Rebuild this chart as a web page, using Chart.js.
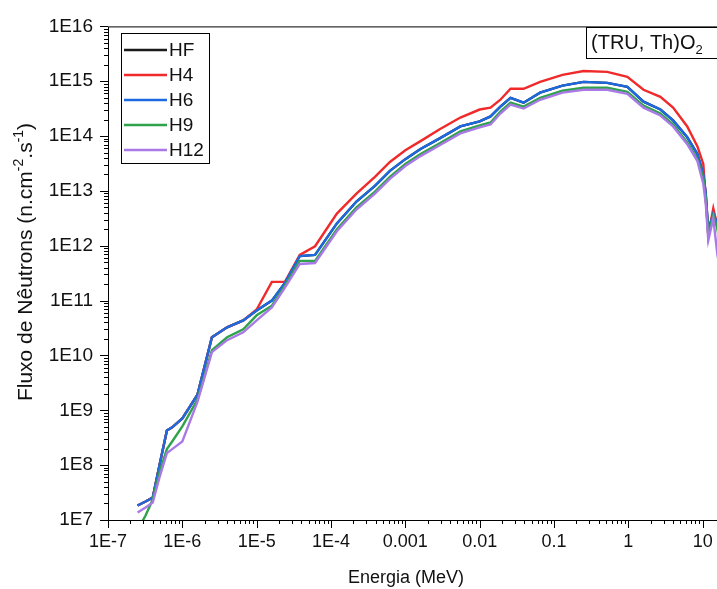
<!DOCTYPE html>
<html>
<head>
<meta charset="utf-8">
<script src="https://cdn.jsdelivr.net/npm/chart.js@4.4.1/dist/chart.umd.min.js"></script>
<style>
  html, body { margin: 0; padding: 0; background: #fff; }
  #wrap { width: 717px; height: 589px; overflow: hidden; position: relative; }
  #chart { display: block; }
</style>
</head>
<body>
<div id="wrap"><canvas id="chart" width="790" height="589"></canvas></div>
<script>
// energia (MeV)
const energy = [2.5e-7, 3.2e-7, 4.0e-7, 5.0e-7, 6.2e-7, 7.3e-7, 1.0e-6, 1.6e-6, 2.5e-6, 4.0e-6,
  6.6e-6, 1.0e-5, 1.6e-5, 2.4e-5, 3.8e-5, 6.1e-5, 1.2e-4, 2.2e-4, 3.9e-4, 6.2e-4,
  1.0e-3, 1.6e-3, 2.9e-3, 5.5e-3, 1.0e-2, 1.4e-2, 1.9e-2, 2.6e-2, 3.9e-2, 6.5e-2,
  0.13, 0.25, 0.52, 0.97, 1.6, 2.7, 4.0, 6.2, 8.5, 10.2, 11.0, 11.9, 13.9, 15.7, 20];

const fluxHF = [1.84e7, 2.17e7, 2.56e7, 1.1e8, 4.3e8, 4.9e8, 7.1e8, 1.93e9, 2.15e10, 3.26e10,
  4.36e10, 6.6e10, 1.0e11, 2.1e11, 6.5e11, 6.8e11, 2.56e12, 6.4e12, 1.24e13, 2.32e13,
  3.8e13, 5.8e13, 9.1e13, 1.5e14, 1.85e14, 2.28e14, 3.45e14, 5.0e14, 4.07e14, 6.2e14,
  8.3e14, 9.75e14, 9.35e14, 7.9e14, 4.25e14, 3.05e14, 1.93e14, 9.5e13, 4.7e13, 2.04e13,
  8.9e12, 1.84e12, 3.87e12, 2.56e12, 3.2e11];
const fluxH4 = [1.84e7, 2.17e7, 2.56e7, 1.1e8, 4.3e8, 4.9e8, 7.1e8, 1.93e9, 2.15e10, 3.26e10,
  4.36e10, 6.9e10, 2.2e11, 2.2e11, 6.8e11, 9.8e11, 3.87e12, 8.9e12, 1.8e13, 3.37e13,
  5.5e13, 8.1e13, 1.33e14, 2.18e14, 3.05e14, 3.3e14, 4.6e14, 7.3e14, 7.3e14, 9.75e14,
  1.31e15, 1.54e15, 1.48e15, 1.2e15, 7.0e14, 5.2e14, 3.3e14, 1.5e14, 6.5e13, 3.1e13,
  7.2e12, 1.55e12, 4.8e12, 2.35e12, 3.2e11];
const fluxH6 = [1.84e7, 2.17e7, 2.56e7, 1.1e8, 4.3e8, 4.9e8, 7.1e8, 1.93e9, 2.15e10, 3.26e10,
  4.36e10, 6.6e10, 1.0e11, 2.1e11, 6.5e11, 6.8e11, 2.56e12, 6.4e12, 1.24e13, 2.32e13,
  3.8e13, 5.8e13, 9.1e13, 1.5e14, 1.85e14, 2.28e14, 3.45e14, 5.0e14, 4.07e14, 6.2e14,
  8.3e14, 9.75e14, 9.35e14, 7.9e14, 4.25e14, 3.05e14, 1.93e14, 9.5e13, 4.7e13, 2.04e13,
  8.9e12, 1.84e12, 3.87e12, 2.56e12, 3.2e11];
const fluxH9 = [6.5e6, 1.21e7, 2.36e7, 7.9e7, 1.96e8, 2.7e8, 5.1e8, 1.57e9, 1.25e10, 2.15e10,
  3.0e10, 5.4e10, 8.1e10, 1.87e11, 5.3e11, 5.3e11, 2.0e12, 5.0e12, 9.7e12, 1.8e13,
  3.1e13, 4.7e13, 7.4e13, 1.22e14, 1.57e14, 1.77e14, 2.8e14, 4.07e14, 3.45e14, 5.0e14,
  6.7e14, 7.6e14, 7.6e14, 6.4e14, 3.6e14, 2.58e14, 1.63e14, 7.7e13, 3.8e13, 1.73e13,
  7.2e12, 1.55e12, 3.6e12, 2.08e12, 2.6e11];
const fluxH12 = [1.37e7, 1.69e7, 2.08e7, 6.4e7, 1.66e8, 1.96e8, 2.7e8, 1.44e9, 1.15e10, 1.9e10,
  2.64e10, 4.36e10, 7.5e10, 1.72e11, 4.66e11, 4.85e11, 1.84e12, 4.58e12, 8.9e12, 1.66e13,
  2.85e13, 4.32e13, 6.8e13, 1.12e14, 1.44e14, 1.63e14, 2.58e14, 3.75e14, 3.18e14, 4.6e14,
  6.2e14, 7.0e14, 7.0e14, 5.9e14, 3.3e14, 2.37e14, 1.5e14, 7.1e13, 3.5e13, 1.35e13,
  5.9e12, 1.26e12, 3.15e12, 7.3e11, 9.2e10];

const seriesNames = ['HF', 'H4', 'H6', 'H9', 'H12'];
const seriesColors = ['#1a1a1a', '#f02a2a', '#1d6ae0', '#2fa24c', '#a97ae6'];
const seriesFlux = [fluxHF, fluxH4, fluxH6, fluxH9, fluxH12];

const FONT = '"Liberation Sans", Arial, sans-serif';
const TXT = '#111';

function pow10Label(v) {
  const e = Math.round(Math.log10(v));
  if (Math.abs(v / Math.pow(10, e) - 1) > 1e-6) return null;
  return e;
}

const datasets = seriesNames.map((name, i) => ({
  label: name,
  data: energy.map((e, j) => ({ x: e, y: seriesFlux[i][j] })),
  borderColor: seriesColors[i],
  borderWidth: 2.4,
  pointRadius: 0,
  tension: 0,
  fill: false,
  order: seriesNames.length - i
}));

const decor = {
  id: 'decor',
  afterDraw(chart) {
    const { ctx, chartArea: a, scales: { x, y } } = chart;
    ctx.save();
    ctx.strokeStyle = '#000';
    ctx.lineWidth = 1;
    ctx.strokeRect(a.left + 0.5, a.top + 0.5, a.right - a.left, a.bottom - a.top);

    // ticks
    ctx.beginPath();
    for (let e = -7; e <= 2; e++) {
      for (let k = 1; k <= 9; k++) {
        const v = k * Math.pow(10, e);
        if (v < x.min * 0.999 || v > x.max * 1.001) continue;
        const px = Math.round(x.getPixelForValue(v)) + 0.5;
        ctx.moveTo(px, a.bottom);
        ctx.lineTo(px, a.bottom + (k === 1 ? 8 : 4));
      }
    }
    for (let e = 7; e <= 16; e++) {
      for (let k = 1; k <= 9; k++) {
        const v = k * Math.pow(10, e);
        if (v < y.min * 0.999 || v > y.max * 1.001) continue;
        const py = Math.round(y.getPixelForValue(v)) + 0.5;
        ctx.moveTo(a.left, py);
        ctx.lineTo(a.left - (k === 1 ? 8 : 4), py);
      }
    }
    ctx.stroke();

    // legend
    ctx.strokeRect(121.5, 33.5, 88, 130);
    ctx.font = '19px ' + FONT;
    ctx.textBaseline = 'middle';
    ctx.textAlign = 'left';
    chart.data.datasets.forEach((ds, i) => {
      const cy = 50 + i * 25;
      ctx.strokeStyle = ds.borderColor;
      ctx.lineWidth = 2.4;
      ctx.beginPath();
      ctx.moveTo(124, cy);
      ctx.lineTo(167, cy);
      ctx.stroke();
      ctx.fillStyle = TXT;
      ctx.fillText(ds.label, 169, cy + 1);
    });

    // caixa do material
    ctx.strokeStyle = '#000';
    ctx.lineWidth = 1;
    ctx.strokeRect(586.5, 27.5, 200, 31);
    ctx.fillStyle = TXT;
    ctx.font = '20px ' + FONT;
    ctx.fillText('(TRU, Th)O', 591, 43);
    const w = ctx.measureText('(TRU, Th)O').width;
    ctx.font = '13px ' + FONT;
    ctx.fillText('2', 591 + w, 50);

    // eixo y titulo
    ctx.save();
    ctx.translate(26, 262);
    ctx.rotate(-Math.PI / 2);
    const parts = [
      ['Fluxo de Nêutrons (n.cm', 21, 0],
      ['-2', 14, -7],
      ['.s', 21, 0],
      ['-1', 14, -7],
      [')', 21, 0]
    ];
    let total = 0;
    parts.forEach(p => { ctx.font = p[1] + 'px ' + FONT; total += ctx.measureText(p[0]).width; });
    let cx = -total / 2;
    ctx.textAlign = 'left';
    parts.forEach(p => {
      ctx.font = p[1] + 'px ' + FONT;
      ctx.fillText(p[0], cx, p[2]);
      cx += ctx.measureText(p[0]).width;
    });
    ctx.restore();

    // eixo x titulo
    ctx.font = '18px ' + FONT;
    ctx.textAlign = 'center';
    ctx.fillText('Energia (MeV)', 406, 578);
    ctx.restore();
  }
};

new Chart(document.getElementById('chart'), {
  type: 'line',
  data: { datasets },
  options: {
    responsive: false,
    animation: false,
    layout: { padding: { top: 21, right: 13, left: 0, bottom: 0 } },
    plugins: { legend: { display: false }, tooltip: { enabled: false } },
    scales: {
      x: {
        type: 'logarithmic',
        min: 1e-7,
        max: 100,
        grid: { display: false, drawTicks: false },
        border: { display: false },
        ticks: {
          autoSkip: false,
          maxRotation: 0,
          padding: 11,
          color: TXT,
          font: { family: FONT, size: 18 },
          callback: v => {
            const e = pow10Label(v);
            if (e === null || e > 1) return '';
            if (e >= 0) return String(Math.pow(10, e));
            if (e >= -3) return Math.pow(10, e).toFixed(-e);
            return '1E' + e;
          }
        },
        afterFit: s => { s.height = 69; }
      },
      y: {
        type: 'logarithmic',
        min: 1e7,
        max: 1e16,
        grid: { display: false, drawTicks: false },
        border: { display: false },
        ticks: {
          autoSkip: false,
          padding: 15,
          color: TXT,
          font: { family: FONT, size: 19 },
          callback: v => {
            const e = pow10Label(v);
            return e === null ? '' : '1E' + e;
          }
        },
        afterFit: s => { s.width = 108; }
      }
    }
  },
  plugins: [decor]
});
</script>
</body>
</html>
